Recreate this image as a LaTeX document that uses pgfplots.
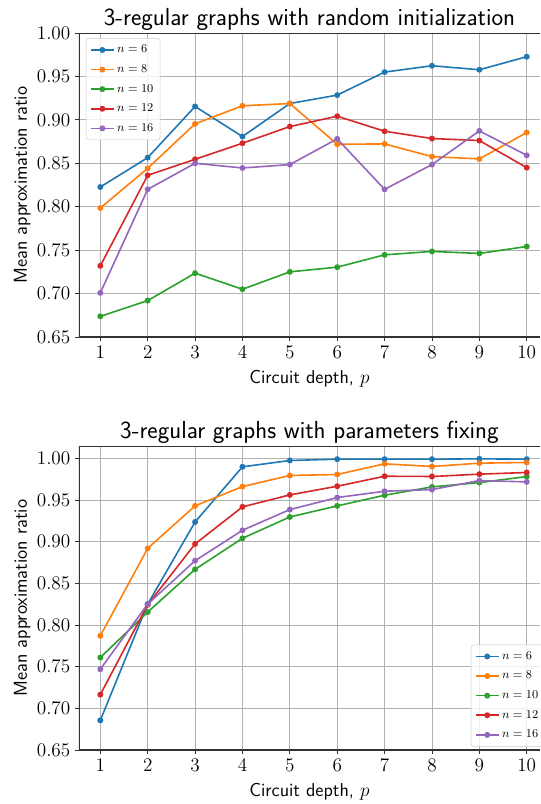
\documentclass[border=0pt]{standalone}
\usepackage{pgfplots}
\pgfplotsset{compat=1.18}
\definecolor{c0}{HTML}{1F77B4}
\definecolor{c1}{HTML}{FF7F0E}
\definecolor{c2}{HTML}{2CA02C}
\definecolor{c3}{HTML}{D62728}
\definecolor{c4}{HTML}{9467BD}
\pgfplotsset{
  myax/.style={
    scale only axis, width=345.75pt, height=228pt,
    xmin=0.55, xmax=10.28,
    xtick={1,...,10},
    ytick={0.65,0.70,...,1.00},
    ymin=0.65,
    tick align=outside, tick pos=left,
    major tick length=3pt,
    grid=major,
    major grid style={color=black!30, line width=0.6pt},
    axis line style={draw=none},
    every tick/.style={black!80, line width=0.6pt},
    tick label style={font=\fontsize{15}{17}\selectfont},
    yticklabel style={/pgf/number format/.cd, fixed, fixed zerofill, precision=2},
    xlabel={\fontsize{14}{16}\selectfont\sffamily Circuit depth, $p$},
    ylabel={\fontsize{14}{16}\selectfont\sffamily Mean approximation ratio},
    xlabel style={yshift=-2pt},
    ylabel style={yshift=-2pt},
    title style={font=\fontsize{18.5}{20}\selectfont\sffamily, yshift=-7.5pt},
    legend style={font=\fontsize{9}{11}\selectfont, rounded corners=2pt, draw=black!20, fill=white, fill opacity=0.8, text opacity=1, row sep=3.4pt, inner sep=3pt},
    legend cell align=left,
    every axis plot/.append style={line width=1.2pt, mark=*, mark size=1.6pt},
    cycle list={{c0},{c1},{c2},{c3},{c4}},
  }
}
\begin{document}
\begin{tikzpicture}
\begin{axis}[myax, ymax=1.00,
  title={3-regular graphs with random initialization},
  legend style={at={(rel axis cs:0.015,0.983)}, anchor=north west},
]
\addplot coordinates {(1,0.8227)(2,0.8565)(3,0.9154)(4,0.8808)(5,0.9188)(6,0.9285)(7,0.955)(8,0.9623)(9,0.9577)(10,0.9727)};
\addplot coordinates {(1,0.7985)(2,0.8442)(3,0.8954)(4,0.9162)(5,0.9188)(6,0.8719)(7,0.8723)(8,0.8577)(9,0.855)(10,0.8854)};
\addplot coordinates {(1,0.6738)(2,0.6919)(3,0.7235)(4,0.705)(5,0.725)(6,0.7304)(7,0.7446)(8,0.7485)(9,0.7462)(10,0.7542)};
\addplot coordinates {(1,0.7319)(2,0.8362)(3,0.8546)(4,0.8731)(5,0.8923)(6,0.9042)(7,0.8869)(8,0.8785)(9,0.8762)(10,0.845)};
\addplot coordinates {(1,0.7008)(2,0.82)(3,0.85)(4,0.8446)(5,0.8485)(6,0.8781)(7,0.82)(8,0.8485)(9,0.8873)(10,0.8592)};
\legend{$n=6$,$n=8$,$n=10$,$n=12$,$n=16$}
\draw[black!80, line width=0.8pt] (rel axis cs:0,0) -- (rel axis cs:0,1) -- (rel axis cs:1,1);
\draw[black!80, line width=0.8pt] (rel axis cs:0,0) -- (rel axis cs:1,0);
\end{axis}
\begin{axis}[myax, at={(0,-81.75pt)}, anchor=north west, ymax=1.015,
  title={3-regular graphs with parameters fixing},
  legend style={at={(axis cs:10.39,0.654)}, anchor=south east},
]
\addplot coordinates {(1,0.6856)(2,0.8252)(3,0.9238)(4,0.99)(5,0.9976)(6,0.9992)(7,0.9992)(8,0.9992)(9,0.9996)(10,0.9992)};
\addplot coordinates {(1,0.7871)(2,0.8921)(3,0.9431)(4,0.9663)(5,0.9796)(6,0.9808)(7,0.9936)(8,0.9904)(9,0.9944)(10,0.9952)};
\addplot coordinates {(1,0.761)(2,0.8156)(3,0.8669)(4,0.9042)(5,0.9298)(6,0.9431)(7,0.9559)(8,0.9659)(9,0.9711)(10,0.9783)};
\addplot coordinates {(1,0.7165)(2,0.8244)(3,0.8974)(4,0.9419)(5,0.9563)(6,0.9667)(7,0.9787)(8,0.9784)(9,0.9812)(10,0.9832)};
\addplot coordinates {(1,0.747)(2,0.8252)(3,0.8773)(4,0.9138)(5,0.9387)(6,0.9531)(7,0.9607)(8,0.9627)(9,0.9735)(10,0.9719)};
\legend{$n=6$,$n=8$,$n=10$,$n=12$,$n=16$}
\draw[black!80, line width=0.8pt] (rel axis cs:0,0) -- (rel axis cs:0,1) -- (rel axis cs:1,1);
\draw[black!80, line width=0.8pt] (rel axis cs:0,0) -- (rel axis cs:1,0);
\end{axis}
\pgfresetboundingbox
\path[use as bounding box] (-59.25pt,-350.25pt) rectangle (346.5pt,252.75pt);
\end{tikzpicture}
\end{document}
